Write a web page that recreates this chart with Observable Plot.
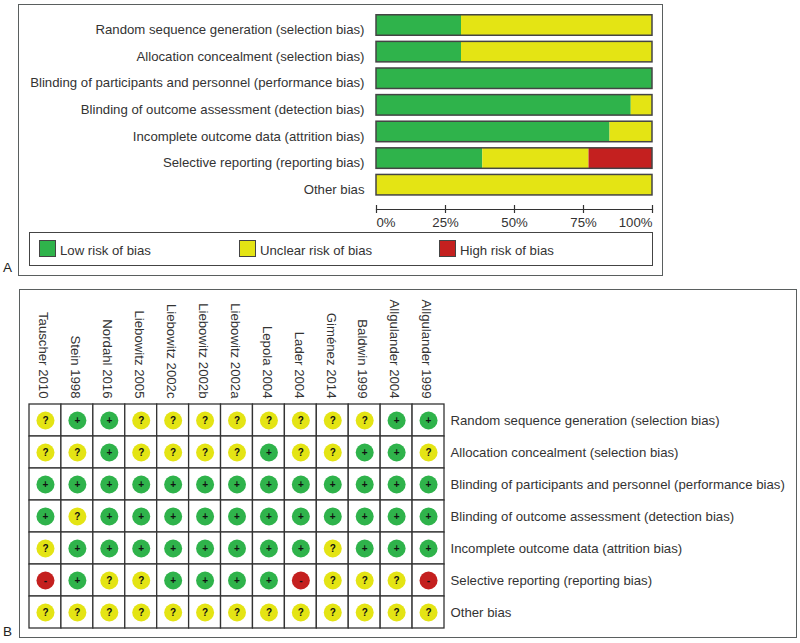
<!DOCTYPE html>
<html><head><meta charset="utf-8">
<script src="https://cdn.jsdelivr.net/npm/d3@7"></script>
<script src="https://cdn.jsdelivr.net/npm/@observablehq/plot@0.6"></script>
<style>
html,body{margin:0;padding:0;background:#fff;}
#page{position:relative;width:800px;height:643px;overflow:hidden;font-family:"Liberation Sans",Arial,sans-serif;color:#333;}
.plot{position:absolute;left:0;}
.plot svg{display:block;font-family:"Liberation Sans",Arial,sans-serif;}
.frame{position:absolute;box-sizing:border-box;border:1.5px solid #5a5f5f;}
.panel{position:absolute;left:3px;font-size:13.5px;color:#222;}
#legend{position:absolute;left:29px;top:232px;width:624px;height:34px;box-sizing:border-box;border:1.5px solid #444;font-size:13.2px;}
.key{position:absolute;top:0;height:31px;display:flex;align-items:center;gap:4px;white-space:nowrap;}
.key i{display:block;width:15px;height:15px;border:1.5px solid #444;}
.key span{position:relative;top:1.5px;}
</style></head>
<body><div id="page">
<div class="frame" style="left:18px;top:4px;width:645px;height:272px"></div>
<div class="frame" style="left:19px;top:289px;width:778px;height:349px"></div>
<div id="plotA" class="plot" style="top:0"></div>
<div id="plotB" class="plot" style="top:285px"></div>
<div id="legend"></div>
<div class="panel" style="top:260px">A</div>
<div class="panel" style="top:624px">B</div>
</div>
<script>
const domains = ["Random sequence generation (selection bias)","Allocation concealment (selection bias)","Blinding of participants and personnel (performance bias)","Blinding of outcome assessment (detection bias)","Incomplete outcome data (attrition bias)","Selective reporting (reporting bias)","Other bias"];
const lowPct     = [30.8, 30.8, 100, 92.3, 84.6, 38.5, 0];
const unclearPct = [69.2, 69.2, 0, 7.7, 15.4, 38.5, 100];
const highPct    = [0, 0, 0, 0, 0, 23, 0];
const percentTicks = [0, 25, 50, 75, 100];
const riskLabels = ["Low risk of bias","Unclear risk of bias","High risk of bias"];
const riskColors = ["#2fb34b","#e4e414","#c4201f"];
const studies = ["Tauscher 2010","Stein 1998","Nordahl 2016","Liebowitz 2005","Liebowitz 2002c","Liebowitz 2002b","Liebowitz 2002a","Lepola 2004","Lader 2004","Giménez 2014","Baldwin 1999","Allgulander 2004","Allgulander 1999"];
const judgements = [
  ["?","+","+","?","?","?","?","?","?","?","?","+","+"],
  ["?","?","+","?","?","?","?","+","?","?","+","+","?"],
  ["+","+","+","+","+","+","+","+","+","+","+","+","+"],
  ["+","?","+","+","+","+","+","+","+","+","+","+","+"],
  ["?","+","+","+","+","+","+","+","+","?","+","+","+"],
  ["-","+","?","?","+","+","+","+","-","?","?","?","-"],
  ["?","?","?","?","?","?","?","?","?","?","?","?","?"]
];
const keyLeft = [9, 209, 409];

const textColor = "#333";
const fs = 13.2;
const stacked = domains.flatMap((d,i)=>[
  {domain:d,risk:riskLabels[0],v:lowPct[i]},
  {domain:d,risk:riskLabels[1],v:unclearPct[i]},
  {domain:d,risk:riskLabels[2],v:highPct[i]}
]);
const color = {domain:riskLabels, range:riskColors};

const A = Plot.plot({
  width:800, height:232, marginLeft:376, marginRight:148, marginTop:11, marginBottom:27,
  style:{background:"transparent",fontSize:fs+"px",color:textColor},
  x:{domain:[0,100]},
  y:{domain:domains, range:[11.7,198], paddingInner:0.23, paddingOuter:0.115, round:false},
  color,
  marks:[
    Plot.barX(stacked, Plot.stackX({x:"v", y:"domain", fill:"risk", order:riskLabels})),
    Plot.barX(domains,{x1:()=>0, x2:()=>100, y:d=>d, fill:"none", stroke:"#444", strokeWidth:1.5}),
    Plot.axisY({anchor:"left", tickSize:0, tickPadding:12, label:null, fontSize:fs, fill:textColor, dy:4.5}),
    Plot.frame({anchor:"bottom", stroke:"#333", strokeWidth:1.2, dy:4}),
    Plot.axisX(percentTicks,{anchor:"bottom", tickSize:8, tickFormat:()=>"", label:null, stroke:"#333", strokeWidth:1.2}),
    Plot.text([percentTicks[0]],{x:d=>d, text:d=>d+"%", frameAnchor:"bottom", dy:21, textAnchor:"start", fontSize:fs, fill:textColor}),
    Plot.text(percentTicks.slice(1,4),{x:d=>d, text:d=>d+"%", frameAnchor:"bottom", dy:21, textAnchor:"middle", fontSize:fs, fill:textColor}),
    Plot.text([percentTicks[4]],{x:d=>d, text:d=>d+"%", frameAnchor:"bottom", dy:21, textAnchor:"end", fontSize:fs, fill:textColor})
  ]
});
document.getElementById("plotA").append(A);

const cells = domains.flatMap((d,r)=>studies.map((s,c)=>({domain:d,study:s,j:judgements[r][c]})));
const B = Plot.plot({
  width:800, height:358, marginLeft:29, marginRight:356, marginTop:119, marginBottom:15,
  style:{background:"transparent",fontSize:fs+"px",color:textColor},
  x:{domain:studies, padding:0, round:false},
  y:{domain:domains, padding:0, round:false},
  color:{domain:["+","?","-"], range:riskColors},
  marks:[
    Plot.cell(cells,{x:"study", y:"domain", fill:"white", stroke:"#333", strokeWidth:1.3}),
    Plot.dot(cells,{x:"study", y:"domain", r:9, fill:"j"}),
    Plot.text(cells,{x:"study", y:"domain", text:"j", fontSize:10, fontWeight:"bold", fill:"#111"}),
    Plot.axisY({anchor:"right", tickSize:0, tickPadding:6, label:null, fontSize:fs, fill:textColor}),
    Plot.axisX({anchor:"top", tickSize:0, tickPadding:6, tickRotate:90, label:null, fontSize:fs, fill:textColor, dx:-2})
  ]
});
document.getElementById("plotB").append(B);

const legend = d3.select("#legend");
riskLabels.forEach((t,i)=>{
  const k = legend.append("div").attr("class","key").style("left",keyLeft[i]+"px");
  k.append("i").style("background",riskColors[i]);
  k.append("span").text(t);
});
</script>
</body></html>
